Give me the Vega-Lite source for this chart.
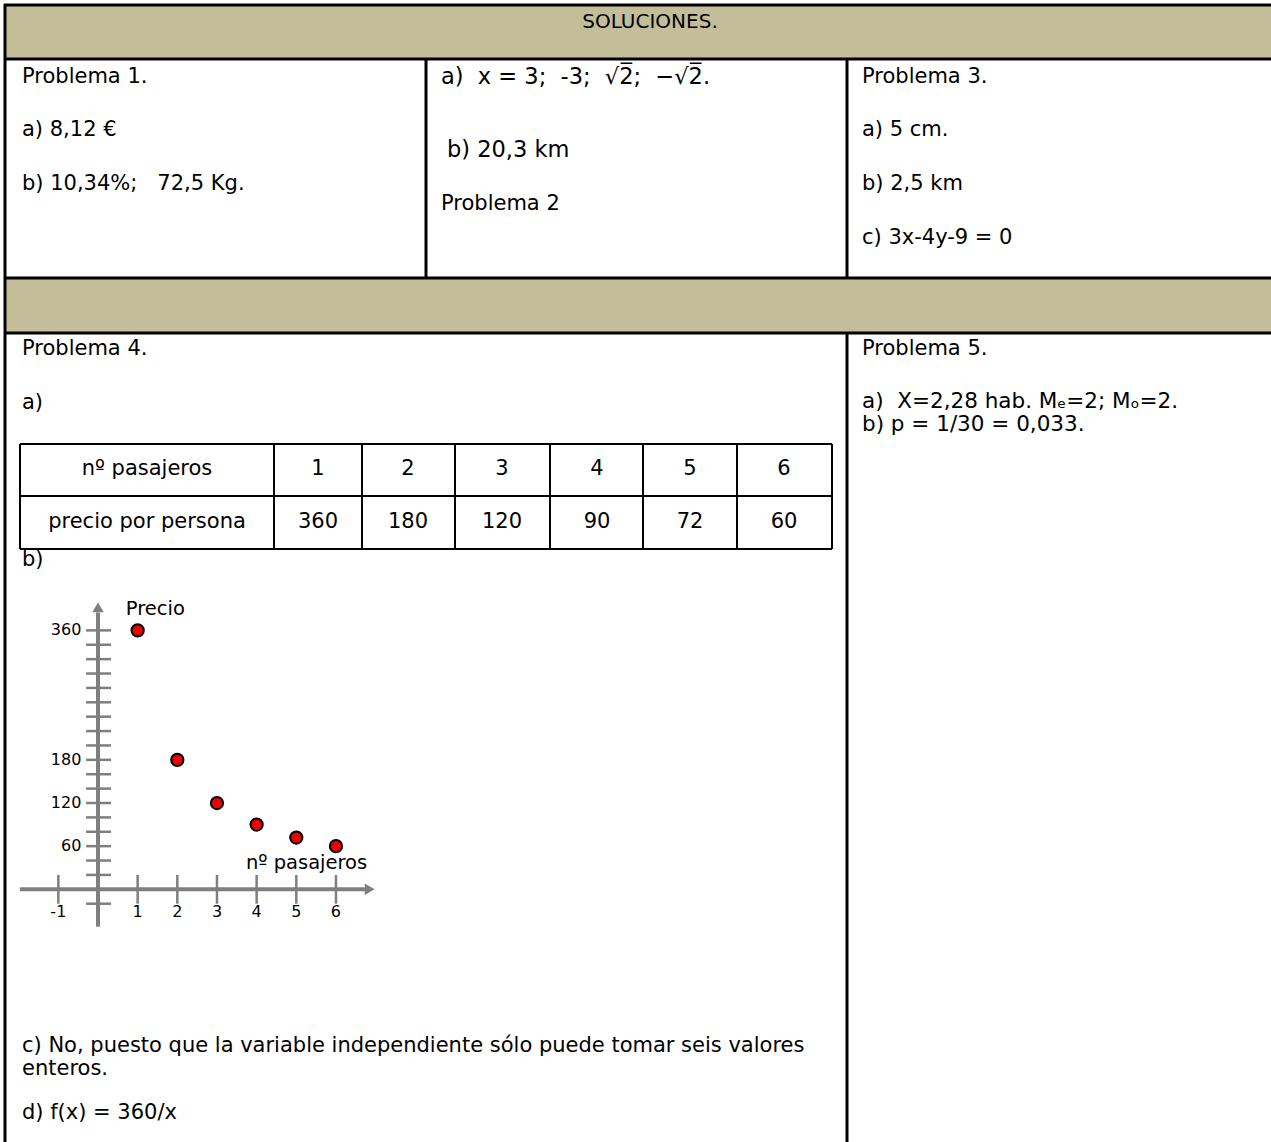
{
  "$schema": "https://vega.github.io/schema/vega-lite/v6.json",
  "width": 1271,
  "height": 1142,
  "autosize": {"type": "none"},
  "padding": 0,
  "background": "white",
  "config": {"view": {"stroke": null}, "text": {"font": "DejaVu Sans", "color": "black"}},
  "datasets": {
    "bands": [
      {"x1": 5, "x2": 1271, "y1": 5, "y2": 59},
      {"x1": 5, "x2": 1271, "y1": 278, "y2": 333}
    ],
    "frame": [
      {"x1": 4, "x2": 1271, "y1": 5, "y2": 5},
      {"x1": 5, "x2": 5, "y1": 4, "y2": 1142},
      {"x1": 5, "x2": 1271, "y1": 59, "y2": 59},
      {"x1": 5, "x2": 1271, "y1": 278, "y2": 278},
      {"x1": 5, "x2": 1271, "y1": 333, "y2": 333},
      {"x1": 426, "x2": 426, "y1": 59, "y2": 278},
      {"x1": 847, "x2": 847, "y1": 59, "y2": 278},
      {"x1": 847, "x2": 847, "y1": 333, "y2": 1142}
    ],
    "grid": [
      {"x1": 20, "x2": 832, "y1": 444, "y2": 444},
      {"x1": 20, "x2": 832, "y1": 496, "y2": 496},
      {"x1": 20, "x2": 832, "y1": 549, "y2": 549},
      {"x1": 20, "x2": 20, "y1": 444, "y2": 549},
      {"x1": 274, "x2": 274, "y1": 444, "y2": 549},
      {"x1": 362, "x2": 362, "y1": 444, "y2": 549},
      {"x1": 455, "x2": 455, "y1": 444, "y2": 549},
      {"x1": 550, "x2": 550, "y1": 444, "y2": 549},
      {"x1": 643, "x2": 643, "y1": 444, "y2": 549},
      {"x1": 737, "x2": 737, "y1": 444, "y2": 549},
      {"x1": 832, "x2": 832, "y1": 444, "y2": 549}
    ],
    "text": [
      {"g": "title", "t": "SOLUCIONES.", "x": 650, "y": 22},
      {"g": "body", "t": "Problema 1.", "x": 22, "y": 77},
      {"g": "body", "t": "a) 8,12 €", "x": 22, "y": 130},
      {"g": "body", "t": "b) 10,34%;\u00a0\u00a0 72,5 Kg.", "x": 22, "y": 184},
      {"g": "big", "t": "a)\u00a0 x = 3;\u00a0 -3;\u00a0 √2̅;\u00a0 −√2̅.", "x": 441, "y": 77},
      {"g": "big", "t": "b) 20,3 km", "x": 447, "y": 150},
      {"g": "body", "t": "Problema 2", "x": 441, "y": 204},
      {"g": "body", "t": "Problema 3.", "x": 862, "y": 77},
      {"g": "body", "t": "a) 5 cm.", "x": 862, "y": 130},
      {"g": "body", "t": "b) 2,5 km", "x": 862, "y": 184},
      {"g": "body", "t": "c) 3x-4y-9 = 0", "x": 862, "y": 238},
      {"g": "body", "t": "Problema 4.", "x": 22, "y": 349},
      {"g": "body", "t": "a)", "x": 22, "y": 403},
      {"g": "body", "t": "b)", "x": 22, "y": 560},
      {"g": "body", "t": "c) No, puesto que la variable independiente sólo puede tomar seis valores", "x": 22, "y": 1046},
      {"g": "body", "t": "enteros.", "x": 22, "y": 1069},
      {"g": "body", "t": "d) f(x) = 360/x", "x": 22, "y": 1113},
      {"g": "body", "t": "Problema 5.", "x": 862, "y": 349},
      {"g": "p5", "t": "a)\u00a0 X=2,28 hab. Mₑ=2; Mₒ=2.", "x": 862, "y": 402},
      {"g": "p5", "t": "b) p = 1/30 = 0,033.", "x": 862, "y": 425},
      {"g": "cell", "t": "nº pasajeros", "x": 147, "y": 469},
      {"g": "cell", "t": "1", "x": 318, "y": 469},
      {"g": "cell", "t": "2", "x": 408, "y": 469},
      {"g": "cell", "t": "3", "x": 502, "y": 469},
      {"g": "cell", "t": "4", "x": 597, "y": 469},
      {"g": "cell", "t": "5", "x": 690, "y": 469},
      {"g": "cell", "t": "6", "x": 784, "y": 469},
      {"g": "cell", "t": "precio por persona", "x": 147, "y": 522},
      {"g": "cell", "t": "360", "x": 318, "y": 522},
      {"g": "cell", "t": "180", "x": 408, "y": 522},
      {"g": "cell", "t": "120", "x": 502, "y": 522},
      {"g": "cell", "t": "90", "x": 597, "y": 522},
      {"g": "cell", "t": "72", "x": 690, "y": 522},
      {"g": "cell", "t": "60", "x": 784, "y": 522}
    ],
    "pts": [
      {"n": 1, "p": 360},
      {"n": 2, "p": 180},
      {"n": 3, "p": 120},
      {"n": 4, "p": 90},
      {"n": 5, "p": 72},
      {"n": 6, "p": 60}
    ],
    "xticks": [
      {"n": -1, "lab": "-1"},
      {"n": 1, "lab": "1"},
      {"n": 2, "lab": "2"},
      {"n": 3, "lab": "3"},
      {"n": 4, "lab": "4"},
      {"n": 5, "lab": "5"},
      {"n": 6, "lab": "6"}
    ],
    "yticks": [
      {"p": -20}, {"p": 20}, {"p": 40}, {"p": 60}, {"p": 80}, {"p": 100},
      {"p": 120}, {"p": 140}, {"p": 160}, {"p": 180}, {"p": 200}, {"p": 220},
      {"p": 240}, {"p": 260}, {"p": 280}, {"p": 300}, {"p": 320}, {"p": 340}, {"p": 360}
    ],
    "ylabs": [
      {"p": 60, "lab": "60"},
      {"p": 120, "lab": "120"},
      {"p": 180, "lab": "180"},
      {"p": 360, "lab": "360"}
    ],
    "axes": [
      {"a": "x", "n1": -1.97, "n2": 6.75, "p1": 0, "p2": 0},
      {"a": "y", "n1": 0, "n2": 0, "p1": -52, "p2": 385}
    ],
    "arrows": [
      {"a": "x", "n": 6.85, "p": 0},
      {"a": "y", "n": 0, "p": 392}
    ],
    "names": [
      {"t": "Precio", "n": 0.7, "p": 390},
      {"t": "nº pasajeros", "n": 3.73, "p": 36}
    ]
  },
  "resolve": {"scale": {"x": "independent", "y": "independent"}},
  "layer": [
    {
      "encoding": {
        "x": {"type": "quantitative", "scale": {"domain": [0, 1271], "nice": false, "zero": false}, "axis": null},
        "y": {"type": "quantitative", "scale": {"domain": [0, 1142], "nice": false, "zero": false, "reverse": true}, "axis": null}
      },
      "layer": [
        {
          "data": {"name": "bands"},
          "mark": {"type": "rect", "color": "#c4bd99"},
          "encoding": {
            "x": {"field": "x1", "type": "quantitative"},
            "x2": {"field": "x2"},
            "y": {"field": "y1", "type": "quantitative"},
            "y2": {"field": "y2"}
          }
        },
        {
          "data": {"name": "frame"},
          "mark": {"type": "rule", "color": "black", "strokeWidth": 3},
          "encoding": {
            "x": {"field": "x1", "type": "quantitative"},
            "x2": {"field": "x2"},
            "y": {"field": "y1", "type": "quantitative"},
            "y2": {"field": "y2"}
          }
        },
        {
          "data": {"name": "grid"},
          "mark": {"type": "rule", "color": "black", "strokeWidth": 2},
          "encoding": {
            "x": {"field": "x1", "type": "quantitative"},
            "x2": {"field": "x2"},
            "y": {"field": "y1", "type": "quantitative"},
            "y2": {"field": "y2"}
          }
        },
        {
          "data": {"name": "text"},
          "transform": [{"filter": "datum.g === 'title'"}],
          "mark": {"type": "text", "align": "center", "baseline": "middle", "fontSize": 20},
          "encoding": {
            "x": {"field": "x", "type": "quantitative"},
            "y": {"field": "y", "type": "quantitative"},
            "text": {"field": "t"}
          }
        },
        {
          "data": {"name": "text"},
          "transform": [{"filter": "datum.g === 'body'"}],
          "mark": {"type": "text", "align": "left", "baseline": "middle", "fontSize": 21},
          "encoding": {
            "x": {"field": "x", "type": "quantitative"},
            "y": {"field": "y", "type": "quantitative"},
            "text": {"field": "t"}
          }
        },
        {
          "data": {"name": "text"},
          "transform": [{"filter": "datum.g === 'big'"}],
          "mark": {"type": "text", "align": "left", "baseline": "middle", "fontSize": 22.5},
          "encoding": {
            "x": {"field": "x", "type": "quantitative"},
            "y": {"field": "y", "type": "quantitative"},
            "text": {"field": "t"}
          }
        },
        {
          "data": {"name": "text"},
          "transform": [{"filter": "datum.g === 'p5'"}],
          "mark": {"type": "text", "align": "left", "baseline": "middle", "fontSize": 21.5},
          "encoding": {
            "x": {"field": "x", "type": "quantitative"},
            "y": {"field": "y", "type": "quantitative"},
            "text": {"field": "t"}
          }
        },
        {
          "data": {"name": "text"},
          "transform": [{"filter": "datum.g === 'cell'"}],
          "mark": {"type": "text", "align": "center", "baseline": "middle", "fontSize": 21},
          "encoding": {
            "x": {"field": "x", "type": "quantitative"},
            "y": {"field": "y", "type": "quantitative"},
            "text": {"field": "t"}
          }
        }
      ]
    },
    {
      "encoding": {
        "x": {"type": "quantitative", "scale": {"domain": [-2.471, 29.577], "nice": false, "zero": false}, "axis": null},
        "y": {"type": "quantitative", "scale": {"domain": [-351.3, 1236.4], "nice": false, "zero": false}, "axis": null}
      },
      "layer": [
        {
          "data": {"name": "yticks"},
          "mark": {"type": "rule", "color": "#7f7f7f", "strokeWidth": 2.5},
          "encoding": {
            "x": {"datum": -0.3, "type": "quantitative"},
            "x2": {"datum": 0.33},
            "y": {"field": "p", "type": "quantitative"}
          }
        },
        {
          "data": {"name": "xticks"},
          "mark": {"type": "rule", "color": "#7f7f7f", "strokeWidth": 2.5},
          "encoding": {
            "x": {"field": "n", "type": "quantitative"},
            "y": {"datum": -20, "type": "quantitative"},
            "y2": {"datum": 20}
          }
        },
        {
          "data": {"name": "axes"},
          "mark": {"type": "rule", "color": "#7f7f7f", "strokeWidth": 4},
          "encoding": {
            "x": {"field": "n1", "type": "quantitative"},
            "x2": {"field": "n2"},
            "y": {"field": "p1", "type": "quantitative"},
            "y2": {"field": "p2"}
          }
        },
        {
          "data": {"name": "arrows"},
          "mark": {"type": "point", "filled": true, "color": "#7f7f7f", "size": 130, "opacity": 1},
          "encoding": {
            "x": {"field": "n", "type": "quantitative"},
            "y": {"field": "p", "type": "quantitative"},
            "shape": {"field": "a", "type": "nominal", "scale": {"domain": ["x", "y"], "range": ["triangle-right", "triangle-up"]}, "legend": null}
          }
        },
        {
          "data": {"name": "xticks"},
          "mark": {"type": "text", "align": "center", "baseline": "middle", "fontSize": 16},
          "encoding": {
            "x": {"field": "n", "type": "quantitative"},
            "y": {"datum": -31, "type": "quantitative"},
            "text": {"field": "lab"}
          }
        },
        {
          "data": {"name": "ylabs"},
          "mark": {"type": "text", "align": "right", "baseline": "middle", "fontSize": 16},
          "encoding": {
            "x": {"datum": -0.42, "type": "quantitative"},
            "y": {"field": "p", "type": "quantitative"},
            "text": {"field": "lab"}
          }
        },
        {
          "data": {"name": "names"},
          "mark": {"type": "text", "align": "left", "baseline": "middle", "fontSize": 19.5},
          "encoding": {
            "x": {"field": "n", "type": "quantitative"},
            "y": {"field": "p", "type": "quantitative"},
            "text": {"field": "t"}
          }
        },
        {
          "data": {"name": "pts"},
          "mark": {"type": "point", "filled": true, "color": "#ee0000", "stroke": "black", "strokeWidth": 2, "size": 150, "opacity": 1, "shape": "circle"},
          "encoding": {
            "x": {"field": "n", "type": "quantitative"},
            "y": {"field": "p", "type": "quantitative"}
          }
        }
      ]
    }
  ]
}
